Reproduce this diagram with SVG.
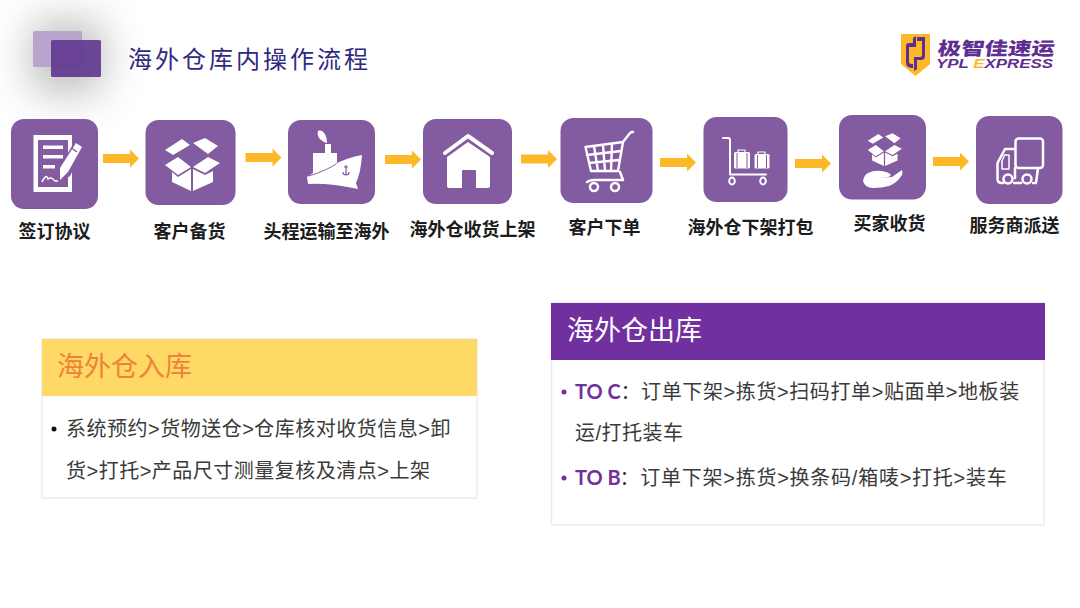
<svg xmlns="http://www.w3.org/2000/svg" width="1080" height="608" viewBox="0 0 1080 608">
<style>
.cjk{font-family:"Noto Sans CJK SC","Noto Sans",sans-serif}
.lab{font-size:18px;font-weight:700;fill:#1c1c1c;text-anchor:middle}
.tile{fill:#835ba1}
.w{fill:#fff}
.ws{fill:none;stroke:#fff;stroke-linecap:round;stroke-linejoin:round}
.p{fill:#835ba1}
.body{font-family:"Liberation Sans","Noto Sans CJK SC",sans-serif;font-size:20px;fill:#3a3a3a;letter-spacing:.5px}
.r1{letter-spacing:.6px}
.r3{letter-spacing:.75px}
.ph{font-size:27px}
.lat{font-family:Lato,"Noto Sans",sans-serif;font-weight:700;font-size:20px;fill:#7030a0}
.panel{fill:#fff;stroke:#e8ecf6;stroke-width:1.5}
</style>
<defs>
<filter id="blur" x="-150%" y="-150%" width="400%" height="400%"><feGaussianBlur stdDeviation="22"/></filter>
<path id="arrow" d="M-18-4.500H9V-9L18 0 9 9V4.500H-18Z" fill="#fdb827"/>
<path id="box" class="w" d="M-27-15-10-26-2-20-19-10ZM1-22 13-27 26-19 16-11ZM-27 0-14-8-1 2-14 10ZM1 2 16-8 28-2 13 8ZM-20 7-14 12-1 4V26L-20 17ZM1 4 13 10 21 6V17L1 26Z"/>
</defs>
<rect width="1080" height="608" fill="#fff"/>
<g id="header">
<rect x="32" y="22" width="70" height="70" fill="#000" opacity=".27" filter="url(#blur)"/>
<rect x="33" y="31" width="49" height="36" rx="1.500" fill="#b7a5cc"/>
<rect x="51" y="40" width="50" height="37" rx="1.500" fill="#623a90" opacity=".92"/>
<text class="cjk" x="128" y="68" font-size="24" letter-spacing="3" fill="#2e2a80">海外仓库内操作流程</text>
</g>
<g id="logo">
<path d="M901 34H930V64L915.500 76 901 64Z" fill="#fdb827"/>
<path d="M906 46Q906 43 909 43H913V38L916 36V47H909V62Q909 64 913 64V68Q906 68 906 63ZM925 37V56Q925 60 921 60H917V69L914 71V57H920Q922 57 922 55V41H917V37Z" fill="#5f2e91"/>
<text class="cjk" transform="translate(937 54.500) skewX(-8) scale(1.3 1)" font-size="18" font-weight="900" fill="#5f2e91">极智佳速运</text>
<text x="936" y="67.500" font-family="Liberation Sans,sans-serif" font-size="13.500" font-weight="700" font-style="italic" fill="#5f2e91" textLength="117" lengthAdjust="spacingAndGlyphs">YPL <tspan fill="#fdb827">E</tspan>XPRESS</text>
</g>
<g id="connectors">
<use href="#arrow" x="121" y="158.500"/>
<use href="#arrow" x="263.500" y="157.500"/>
<use href="#arrow" x="403" y="159.500"/>
<use href="#arrow" x="539" y="159"/>
<use href="#arrow" x="678" y="162.500"/>
<use href="#arrow" x="813" y="163.500"/>
<use href="#arrow" x="951" y="161.500"/>
</g>
<g id="n1">
<rect class="tile" x="11" y="119" width="87" height="90" rx="13"/>
<rect class="w" x="33.500" y="135" width="38.500" height="57"/>
<rect class="p" x="38" y="140" width="30" height="47"/>
<path class="w" d="M43 145.500H63V149H43ZM43 155H63V158.500H43ZM43 165H55V168.500H43Z"/>
<path d="M42 182C45 176 47 175 48 179 51 177 52 178 55 181H59" fill="none" stroke="#fff" stroke-width="1.500"/>
<path class="p" d="M76 139 86 146 70 176 58 184 58 170Z"/>
<path class="w" d="M76 143 82 147 68 172 60 180 60 168Z"/>
<path d="M71.500 148 77 152" stroke="#835ba1" stroke-width="1.500"/>
</g>
<g id="n2">
<rect class="tile" x="145.500" y="120" width="90" height="85" rx="13"/>
<use href="#box" x="192" y="165"/>
</g>
<g id="n3">
<rect class="tile" x="288" y="120" width="87" height="84" rx="13"/>
<path class="w" d="M318 131C322 129 327 134 327 143 322 142 316 137 318 131Z"/>
<rect class="w" x="325" y="144" width="6" height="9"/>
<path class="w" d="M313 153H337V163Q350 157 362 155 361 172 356 183L358 189Q330 183 308 184L307 177Q310 175 313 173Z"/>
<path d="M309 176C322 172 336 165 337 163" fill="none" stroke="#835ba1" stroke-width="1"/>
<path d="M346 165V175M343 172C343 176 349 176 349 172M344 167H348" fill="none" stroke="#835ba1" stroke-width="1.200"/>
</g>
<g id="n4">
<rect class="tile" x="423" y="119" width="89" height="85" rx="13"/>
<path class="ws" d="M445 153 468 136 492 153" stroke-width="4"/>
<path class="w" d="M468 142 490 157V186Q490 188 488 188H476V171Q476 170 475 170H463Q462 170 462 171V188H449Q447 188 447 186V157Z"/>
</g>
<g id="n5">
<rect class="tile" x="560.500" y="118" width="92" height="85" rx="13"/>
<path class="ws" d="M585.500 147 623 142 630 133Q631 132 633 132M585.500 147 591 171H618L623 142M587 155 621 151M589 163 619 160M594 146 598 171M603 145 605 171M612 144 611 171" stroke-width="2.400"/>
<path class="ws" d="M587 182Q590 180 594 180H623L620 172" stroke-width="2.500"/>
<circle class="ws" cx="594" cy="187" r="4" stroke-width="2.500"/>
<circle class="ws" cx="615" cy="187" r="4" stroke-width="2.500"/>
</g>
<g id="n6">
<rect class="tile" x="703.500" y="117" width="84" height="85" rx="13"/>
<path class="ws" d="M723 138H728Q730 138 730 140V174.500H766" stroke-width="2"/>
<rect class="w" x="734" y="152" width="16" height="16.500" rx="1.500"/>
<path class="ws" d="M738 152V150H745V152M758 154V152H765V154" stroke-width="1.200"/>
<rect class="w" x="754.500" y="154" width="15" height="14.500" rx="1.500"/>
<path d="M737 153V168M747 153V168M757.500 155V168M766.500 155V168" stroke="#835ba1" stroke-width="1"/>
<ellipse class="ws" cx="732" cy="181" rx="2.800" ry="3.500" stroke-width="2"/>
<ellipse class="ws" cx="763" cy="181" rx="2.800" ry="3.500" stroke-width="2"/>
</g>
<g id="n7">
<rect class="tile" x="839" y="115" width="87" height="84.500" rx="13"/>
<use href="#box" transform="translate(884.500 150) scale(.62)"/>
<path class="w" d="M863 181Q864 175 868 173 874 170 881 171 888 172 890 174 892 176 888 177L879 178 892 177 902 170Q903 172 902 175 897 183 889 186 882 188 873 188 865 188 863 181Z"/>
</g>
<g id="n8">
<rect class="tile" x="976" y="116" width="86.500" height="88" rx="13"/>
<rect class="ws" x="1015.500" y="138.500" width="27.500" height="29.500" rx="3" stroke-width="2.500"/>
<path class="ws" d="M1014 149H1005L997.500 163V179Q997.500 183 1002 183H1003M1014 183H1021M1033 183H1036L1038 168M1015 168V178" stroke-width="2.500"/>
<path class="ws" d="M1004.500 155H1009V169H1002V161Z" stroke-width="1.500"/>
<circle class="ws" cx="1008" cy="179" r="4.500" stroke-width="2.500"/>
<circle class="ws" cx="1027" cy="179" r="4.500" stroke-width="2.500"/>
</g>
<g id="labels">
<text class="lab cjk" x="54.500" y="238">签订协议</text>
<text class="lab cjk" x="189.500" y="238">客户备货</text>
<text class="lab cjk" x="326.500" y="238">头程运输至海外</text>
<text class="lab cjk" x="472.500" y="236">海外仓收货上架</text>
<text class="lab cjk" x="604.500" y="234">客户下单</text>
<text class="lab cjk" x="750.500" y="234">海外仓下架打包</text>
<text class="lab cjk" x="889.500" y="230">买家收货</text>
<text class="lab cjk" x="1014.500" y="232">服务商派送</text>
</g>
<g id="inbound">
<rect class="panel" x="42" y="339" width="435" height="159"/>
<rect x="42" y="339" width="435" height="57" fill="#ffd966"/>
<text class="cjk ph" x="57" y="376" fill="#f0813a">海外仓入库</text>
<circle cx="54" cy="429" r="2.500" fill="#111"/>
<text class="body" x="66" y="436">系统预约&gt;货物送仓&gt;仓库核对收货信息&gt;卸</text>
<text class="body" x="66" y="478">货&gt;打托&gt;产品尺寸测量复核及清点&gt;上架</text>
</g>
<g id="outbound">
<rect class="panel" x="551.500" y="303" width="492.500" height="222"/>
<rect x="551" y="303" width="494" height="57" fill="#7030a0"/>
<text class="cjk ph" x="567" y="340" fill="#fff">海外仓出库</text>
<circle cx="564" cy="392" r="2.500" fill="#7030a0"/>
<text class="lat" x="575" y="399">TO C</text>
<text class="body r1" x="620.500" y="399">：订单下架&gt;拣货&gt;扫码打单&gt;贴面单&gt;地板装</text>
<text class="body" x="575" y="440">运/打托装车</text>
<circle cx="564" cy="478" r="2.500" fill="#7030a0"/>
<text class="lat" x="575" y="485">TO B</text>
<text class="body r3" x="619.500" y="485">：订单下架&gt;拣货&gt;换条码/箱唛&gt;打托&gt;装车</text>
</g>
</svg>
